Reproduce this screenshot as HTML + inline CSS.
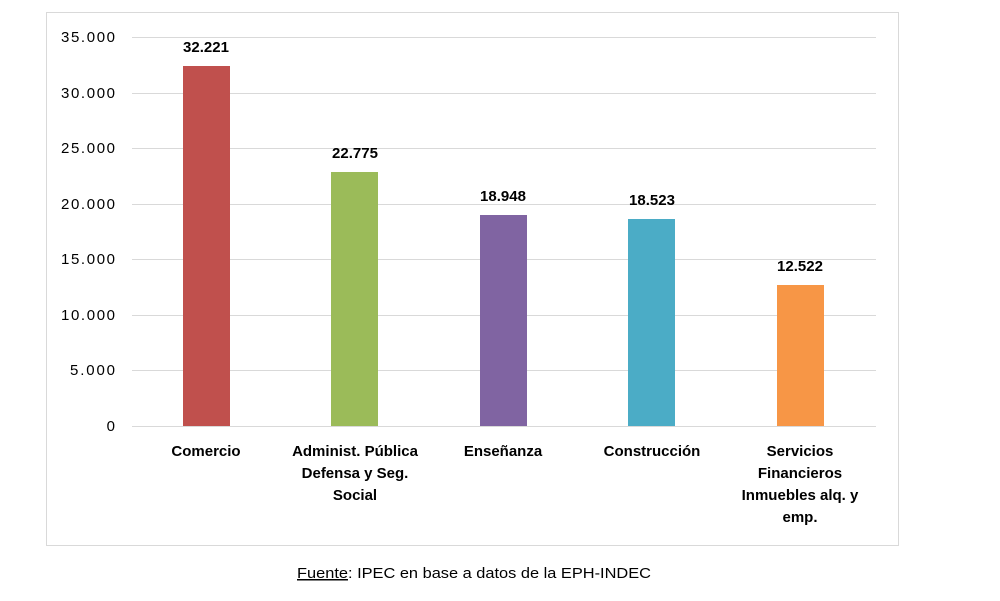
<!DOCTYPE html>
<html><head><meta charset="utf-8"><style>
body{margin:0;background:#fff;}
svg{display:block;font-family:"Liberation Sans",Arial,sans-serif;}
</style></head><body>
<svg width="1000" height="601" viewBox="0 0 1000 601" xmlns="http://www.w3.org/2000/svg">
<rect x="46.5" y="12.5" width="852" height="533" fill="#fff" stroke="#d9d9d9" stroke-width="1"/>
<g stroke="#d9d9d9" stroke-width="1">
<line x1="132" x2="876" y1="37.5" y2="37.5"/>
<line x1="132" x2="876" y1="93.5" y2="93.5"/>
<line x1="132" x2="876" y1="148.5" y2="148.5"/>
<line x1="132" x2="876" y1="204.5" y2="204.5"/>
<line x1="132" x2="876" y1="259.5" y2="259.5"/>
<line x1="132" x2="876" y1="315.5" y2="315.5"/>
<line x1="132" x2="876" y1="370.5" y2="370.5"/>
<line x1="132" x2="876" y1="426.5" y2="426.5"/>
</g>
<g font-size="15" fill="#000" text-anchor="end">
<text x="115" y="42" textLength="54">35.000</text>
<text x="115" y="98" textLength="54">30.000</text>
<text x="115" y="153" textLength="54">25.000</text>
<text x="115" y="209" textLength="54">20.000</text>
<text x="115" y="264" textLength="54">15.000</text>
<text x="115" y="320" textLength="54">10.000</text>
<text x="115" y="375" textLength="45">5.000</text>
<text x="115" y="431">0</text>
</g>
<rect x="183" y="66" width="47" height="360" fill="#c0504d"/>
<rect x="331" y="172" width="47" height="254" fill="#9bbb59"/>
<rect x="480" y="215" width="47" height="211" fill="#8064a2"/>
<rect x="628" y="219" width="47" height="207" fill="#4bacc6"/>
<rect x="777" y="285" width="47" height="141" fill="#f79646"/>
<g font-size="15" font-weight="bold" text-anchor="middle" fill="#000">
<text x="206" y="52">32.221</text>
<text x="355" y="158">22.775</text>
<text x="503" y="201">18.948</text>
<text x="652" y="205">18.523</text>
<text x="800" y="271">12.522</text>
<text x="206" y="456">Comercio</text>
<text x="355" y="456">Administ. Pública</text>
<text x="355" y="478">Defensa y Seg.</text>
<text x="355" y="500">Social</text>
<text x="503" y="456">Enseñanza</text>
<text x="652" y="456">Construcción</text>
<text x="800" y="456">Servicios</text>
<text x="800" y="478">Financieros</text>
<text x="800" y="500">Inmuebles alq. y</text>
<text x="800" y="522">emp.</text>
</g>
<text x="297" y="578" font-size="15" fill="#000" textLength="354" lengthAdjust="spacingAndGlyphs"><tspan text-decoration="underline">Fuente</tspan>: IPEC en base a datos de la EPH-INDEC</text>
</svg>
</body></html>
